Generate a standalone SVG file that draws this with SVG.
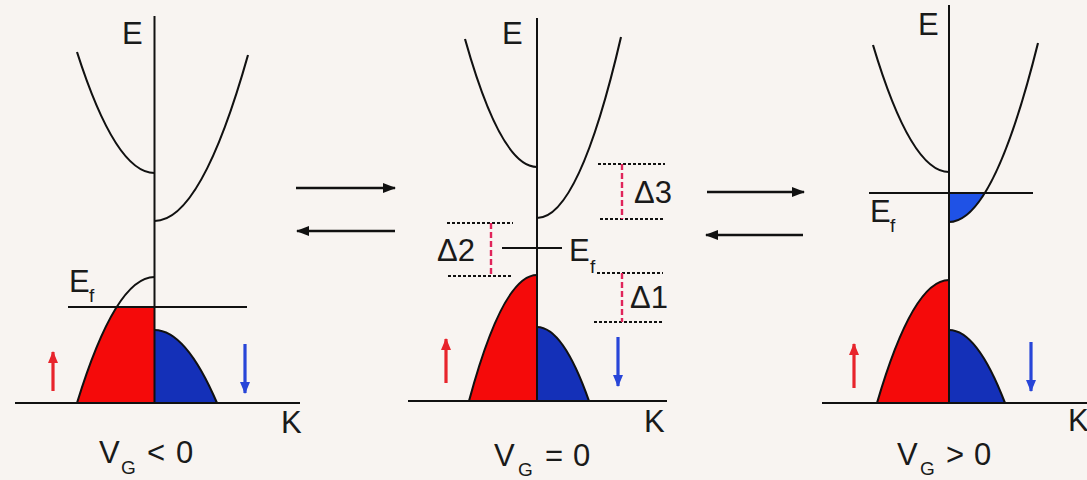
<svg xmlns="http://www.w3.org/2000/svg" width="1087" height="480" viewBox="0 0 1087 480">
<defs>
<style>
.ax{stroke:#111;stroke-width:2;fill:none}
.bd{stroke:#111;stroke-width:2.1;fill:none}
.t{font-family:"Liberation Sans",Arial,sans-serif;font-size:31px;fill:#1a1a1a}
.sub{font-family:"Liberation Sans",Arial,sans-serif;font-size:19px;fill:#1a1a1a}
.dl{font-family:"Liberation Sans",Arial,sans-serif;font-size:31px;fill:#1a1a1a}
.dot{stroke:#111;stroke-width:2;stroke-dasharray:3 2;fill:none}
.rd{stroke:#e0245a;stroke-width:2.4;stroke-dasharray:6 3;fill:none}
.tr{stroke:#111;stroke-width:2.6;fill:none;marker-end:url(#mk)}
.up{stroke:#e8242c;stroke-width:3.2;fill:none;marker-end:url(#mr)}
.dn{stroke:#2845d8;stroke-width:3.2;fill:none;marker-end:url(#mb)}
.red{fill:#f50a0a}
.blu{fill:#1430b8}
</style>
<marker id="mk" markerUnits="userSpaceOnUse" markerWidth="13" markerHeight="10" refX="12" refY="5" orient="auto"><path d="M0,0 L13,5 L0,10 Z" fill="#111"/></marker>
<marker id="mr" markerUnits="userSpaceOnUse" markerWidth="12" markerHeight="10" refX="11" refY="5" orient="auto"><path d="M0,0 L12,5 L0,10 Z" fill="#e8242c"/></marker>
<marker id="mb" markerUnits="userSpaceOnUse" markerWidth="12" markerHeight="10" refX="11" refY="5" orient="auto"><path d="M0,0 L12,5 L0,10 Z" fill="#2845d8"/></marker>
<clipPath id="c1"><rect x="0" y="307" width="300" height="100"/></clipPath>
<clipPath id="c3"><rect x="940" y="193" width="120" height="30"/></clipPath>
</defs>
<rect width="1087" height="480" fill="#f8f4f1"/>

<g id="panel1">
<path class="red" clip-path="url(#c1)" d="M154.5 403 L77 403 Q115.75 277 154.5 277 Z"/>
<path class="blu" d="M154.5 403 L154.5 330 Q185.75 330 217 403 Z"/>
<path class="bd" d="M77 403 Q115.75 277 154.5 277"/>
<path class="bd" d="M154.5 330 Q185.75 330 217 403"/>
<path class="bd" d="M77 52 Q115.75 173 154.5 173"/>
<path class="bd" d="M154.5 221 Q201.25 221 248 55"/>
<line class="ax" x1="154.5" y1="16" x2="154.5" y2="403"/>
<line class="ax" x1="15" y1="403" x2="300" y2="403"/>
<line class="ax" x1="68" y1="307" x2="247" y2="307"/>
<text class="t" x="122" y="44">E</text>
<text class="t" x="281" y="433">K</text>
<text class="t" x="69" y="292" font-size="26">E</text>
<text class="sub" x="89" y="302" font-size="17">f</text>
<text class="t" x="99" y="463">V</text>
<text class="sub" x="121" y="474">G</text>
<text class="t" x="147" y="463">&lt;</text>
<text class="t" x="176" y="463">0</text>
<line class="up" x1="53" y1="391" x2="53" y2="352"/>
<line class="dn" x1="245" y1="344" x2="245" y2="393"/>
</g>

<g id="panel2">
<path class="red" d="M537 401 L469 401 Q503 275 537 275 Z"/>
<path class="blu" d="M537 401 L537 327 Q563 327 589 401 Z"/>
<path class="bd" d="M469 401 Q503 275 537 275"/>
<path class="bd" d="M537 327 Q563 327 589 401"/>
<path class="bd" d="M465 39 Q501 167 537 167"/>
<path class="bd" d="M537 218 Q579 218 621 37"/>
<line class="ax" x1="537" y1="18" x2="537" y2="401"/>
<line class="ax" x1="408" y1="401" x2="667" y2="401"/>
<line class="ax" x1="502" y1="248" x2="562" y2="248"/>
<text class="t" x="502" y="44">E</text>
<text class="t" x="644" y="432">K</text>
<text class="t" x="569" y="261" font-size="28">E</text>
<text class="sub" x="590" y="273" font-size="17">f</text>
<text class="t" x="494" y="466">V</text>
<text class="sub" x="518" y="476">G</text>
<text class="t" x="545" y="466">=</text>
<text class="t" x="573" y="466">0</text>
<line class="up" x1="446" y1="383" x2="446" y2="339"/>
<line class="dn" x1="618" y1="337" x2="618" y2="386"/>
</g>

<g id="gap2">
<line class="dot" x1="447" y1="223" x2="513" y2="223"/>
<line class="dot" x1="448" y1="276" x2="513" y2="276"/>
<line class="rd" x1="491" y1="223" x2="491" y2="276"/>
<text class="dl" x="437" y="261">Δ2</text>
</g>
<g id="gap3">
<line class="dot" x1="598" y1="164" x2="665" y2="164"/>
<line class="dot" x1="600" y1="219" x2="665" y2="219"/>
<line class="rd" x1="622" y1="164" x2="622" y2="219"/>
<text class="dl" x="634" y="203">Δ3</text>
</g>
<g id="gap1">
<line class="dot" x1="597" y1="273" x2="663" y2="273"/>
<line class="dot" x1="594" y1="322" x2="663" y2="322"/>
<line class="rd" x1="622" y1="273" x2="622" y2="322"/>
<text class="dl" x="630" y="308">Δ1</text>
</g>

<g id="panel3">
<path fill="#1f52e6" clip-path="url(#c3)" d="M949 222 Q993.5 222 1038 43 L949 43 Z"/>
<path class="red" d="M949 403 L877 403 Q913 280 949 280 Z"/>
<path class="blu" d="M949 403 L949 330 Q977 330 1005 403 Z"/>
<path class="bd" d="M877 403 Q913 280 949 280"/>
<path class="bd" d="M949 330 Q977 330 1005 403"/>
<path class="bd" d="M873 45 Q911 172 949 172"/>
<path class="bd" d="M949 222 Q993.5 222 1038 43"/>
<line class="ax" x1="949" y1="5" x2="949" y2="403"/>
<line class="ax" x1="822" y1="403" x2="1087" y2="403"/>
<line class="ax" x1="869" y1="193" x2="1033" y2="193"/>
<text class="t" x="918" y="35">E</text>
<text class="t" x="1068" y="431">K</text>
<text class="t" x="870" y="222" font-size="26">E</text>
<text class="sub" x="890" y="232" font-size="17">f</text>
<text class="t" x="897" y="465">V</text>
<text class="sub" x="920" y="475">G</text>
<text class="t" x="946" y="465">&gt;</text>
<text class="t" x="974" y="465">0</text>
<line class="up" x1="854" y1="388" x2="854" y2="344"/>
<line class="dn" x1="1031" y1="342" x2="1031" y2="391"/>
</g>

<g id="connectors">
<line class="tr" x1="296" y1="188" x2="395" y2="188"/>
<line class="tr" x1="395" y1="231" x2="297" y2="231"/>
<line class="tr" x1="707" y1="192" x2="804" y2="192"/>
<line class="tr" x1="803" y1="235" x2="706" y2="235"/>
</g>
</svg>
